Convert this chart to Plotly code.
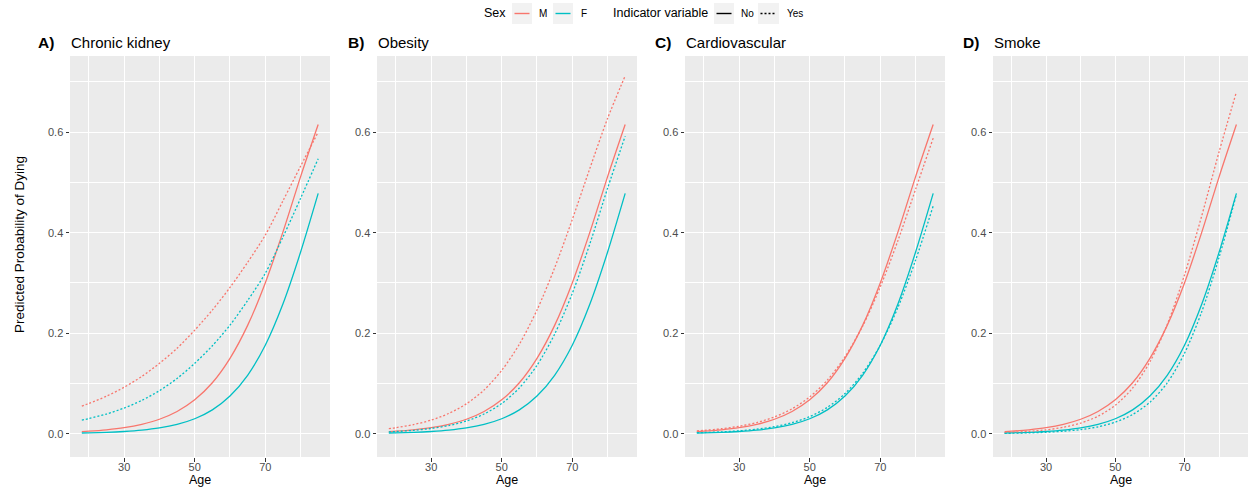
import plotly.graph_objects as go

# ---------------- data ----------------
ages = [18, 20, 25, 30, 35, 40, 45, 50, 55, 60, 65, 70, 75, 80, 85]

panel_letters = ["A)", "B)", "C)", "D)"]
panel_titles = ["Chronic kidney", "Obesity", "Cardiovascular", "Smoke"]

# reference curves (indicator = No), identical in every panel
male_no = [0.0042, 0.0050, 0.0078, 0.0120, 0.0187, 0.0288, 0.0443, 0.0675,
           0.1014, 0.150, 0.2155, 0.300, 0.401, 0.511, 0.615]
female_no = [0.0014, 0.0017, 0.0027, 0.0044, 0.0071, 0.0115, 0.0186, 0.0298,
             0.0475, 0.0750, 0.1163, 0.176, 0.258, 0.361, 0.478]

# indicator = Yes, per panel
kidney_male_yes = [0.0550, 0.0601, 0.0747, 0.0925, 0.114, 0.140, 0.170, 0.206,
                   0.246, 0.291, 0.341, 0.395, 0.463, 0.532, 0.600]
kidney_female_yes = [0.0270, 0.0301, 0.0392, 0.0511, 0.0663, 0.0856, 0.110, 0.140,
                     0.175, 0.216, 0.265, 0.319, 0.391, 0.468, 0.547]

obesity_male_yes = [0.0103, 0.0121, 0.0182, 0.0271, 0.0403, 0.0595, 0.087, 0.126,
                    0.178, 0.246, 0.330, 0.426, 0.528, 0.627, 0.712]
obesity_female_yes = [0.0036, 0.0043, 0.0067, 0.0105, 0.0163, 0.0253, 0.0392, 0.0601,
                      0.0911, 0.136, 0.198, 0.279, 0.378, 0.488, 0.592]

cardio_male_yes = [0.0056, 0.0066, 0.0099, 0.0149, 0.0223, 0.0334, 0.0496, 0.0732,
                   0.1066, 0.153, 0.214, 0.292, 0.384, 0.486, 0.588]
cardio_female_yes = [0.0020, 0.0024, 0.0037, 0.0058, 0.0090, 0.0141, 0.0219, 0.0340,
                     0.0524, 0.0799, 0.120, 0.176, 0.251, 0.345, 0.453]

smoke_male_yes = [0.0023, 0.0028, 0.0047, 0.0077, 0.0128, 0.0212, 0.0348, 0.0566,
                  0.0908, 0.143, 0.217, 0.316, 0.434, 0.561, 0.680]
smoke_female_yes = [0.0008, 0.0010, 0.0017, 0.0029, 0.0049, 0.0082, 0.0138, 0.0230,
                    0.0382, 0.0627, 0.101, 0.160, 0.243, 0.351, 0.476]

male_yes_by_panel = [kidney_male_yes, obesity_male_yes, cardio_male_yes, smoke_male_yes]
female_yes_by_panel = [kidney_female_yes, obesity_female_yes, cardio_female_yes, smoke_female_yes]

x_ticks = [30, 50, 70]
x_minor = [20, 40, 60, 80]
y_ticks = [0.0, 0.2, 0.4, 0.6]
y_tick_labels = ["0.0", "0.2", "0.4", "0.6"]
y_minor = [0.1, 0.3, 0.5, 0.7]

sex_labels = ["M", "F"]
indicator_labels = ["No", "Yes"]

# ---------------- styling ----------------
W, H = 1249, 488
RED = "#F8766D"
TEAL = "#00BFC4"
PANEL_BG = "#EBEBEB"
FONT = "Liberation Sans, Arial, Helvetica, sans-serif"
DOT = "2px,2px"

panel_px = [(70, 330), (377, 637), (685, 945), (993, 1248)]
letter_px = [36, 346, 653, 961]
top_px, bottom_px = 56, 457


def px_x(v):
    return v / W


def px_y(v):
    return (H - v) / H


fig = go.Figure()

for i in range(4):
    xa = "x" if i == 0 else f"x{i+1}"
    ya = "y" if i == 0 else f"y{i+1}"
    series = [
        (male_no, RED, "solid"),
        (female_no, TEAL, "solid"),
        (male_yes_by_panel[i], RED, DOT),
        (female_yes_by_panel[i], TEAL, DOT),
    ]
    for vals, col, dash in series:
        fig.add_trace(go.Scatter(
            x=ages, y=vals, mode="lines", xaxis=xa, yaxis=ya,
            line=dict(color=col, width=1.3, dash=dash, shape="spline", smoothing=0.8),
            showlegend=False, hoverinfo="skip",
        ))

axis_common = dict(
    showline=False, zeroline=False, ticks="outside", ticklen=3.5, tickwidth=1,
    tickcolor="#333333", tickfont=dict(family=FONT, size=11, color="#4D4D4D"),
    showgrid=True, gridcolor="#FFFFFF", gridwidth=1.1,
)

layout = dict(
    width=W, height=H, autosize=False,
    margin=dict(l=0, r=0, t=0, b=0),
    paper_bgcolor="white", plot_bgcolor=PANEL_BG,
    font=dict(family=FONT, color="black"),
    showlegend=False,
)

annotations = []
shapes = []
for i, (l, r) in enumerate(panel_px):
    sx = "" if i == 0 else str(i + 1)
    layout[f"xaxis{sx}"] = dict(
        axis_common, domain=[px_x(l), px_x(r)], range=[14.65, 88.35],
        tickvals=x_ticks, ticktext=[str(v) for v in x_ticks], anchor=f"y{sx}",
        ticklabelstandoff=-4,
        minor=dict(tickvals=x_minor, showgrid=True, gridcolor="#FFFFFF", gridwidth=0.5, ticks=""),
    )
    layout[f"yaxis{sx}"] = dict(
        axis_common, domain=[px_y(bottom_px), px_y(top_px)], range=[-0.0463, 0.7514],
        tickvals=y_ticks, ticktext=y_tick_labels, anchor=f"x{sx}",
        minor=dict(tickvals=y_minor, showgrid=True, gridcolor="#FFFFFF", gridwidth=0.5, ticks=""),
    )
    annotations.append(dict(
        x=px_x(letter_px[i]), y=px_y(42), xref="paper", yref="paper",
        text="<b>" + panel_letters[i] + "</b>", showarrow=False, xanchor="left", yanchor="middle",
        font=dict(family=FONT, size=15.5, color="black"),
    ))
    annotations.append(dict(
        x=px_x(l - 1), y=px_y(42), xref="paper", yref="paper",
        text=panel_titles[i], showarrow=False, xanchor="left", yanchor="middle",
        font=dict(family=FONT, size=15, color="black"),
    ))
    annotations.append(dict(
        x=px_x((l + r) / 2), y=px_y(480), xref="paper", yref="paper",
        text="Age", showarrow=False, xanchor="center", yanchor="middle",
        font=dict(family=FONT, size=12.5, color="black"),
    ))

annotations.append(dict(
    x=px_x(19), y=px_y(245), xref="paper", yref="paper",
    text="Predicted Probability of Dying", showarrow=False, textangle=-90,
    xanchor="center", yanchor="middle", font=dict(family=FONT, size=13.5, color="black"),
))

# ---------------- legend (drawn manually, ggplot style) ----------------
leg_y = 13.5
key_top, key_bot = 3, 24


def key(x0, x1, col, dash):
    shapes.append(dict(type="rect", xref="paper", yref="paper",
                       x0=px_x(x0), x1=px_x(x1), y0=px_y(key_bot), y1=px_y(key_top),
                       fillcolor="#F2F2F2", line=dict(width=0), layer="below"))
    shapes.append(dict(type="line", xref="paper", yref="paper",
                       x0=px_x(x0 + 2.5), x1=px_x(x1 - 2.5), y0=px_y(leg_y), y1=px_y(leg_y),
                       line=dict(color=col, width=1.4, dash=dash)))


def text(x, s, size):
    annotations.append(dict(x=px_x(x), y=px_y(leg_y), xref="paper", yref="paper", text=s,
                            showarrow=False, xanchor="left", yanchor="middle",
                            font=dict(family=FONT, size=size, color="black")))


text(482, "Sex", 12.5)
key(512, 532, RED, "solid")
text(537, sex_labels[0], 10)
key(553, 573, TEAL, "solid")
text(579, sex_labels[1], 10)
text(611, "Indicator variable", 12.5)
key(714, 734, "black", "solid")
text(739, indicator_labels[0], 10)
key(758, 779, "black", DOT)
text(785, indicator_labels[1], 10)

layout["annotations"] = annotations
layout["shapes"] = shapes
fig.update_layout(**layout)

fig.write_html(
    "out.html",
    config={"displayModeBar": False},
    post_script="document.body.style.margin='0';document.body.style.overflow='hidden';",
)
